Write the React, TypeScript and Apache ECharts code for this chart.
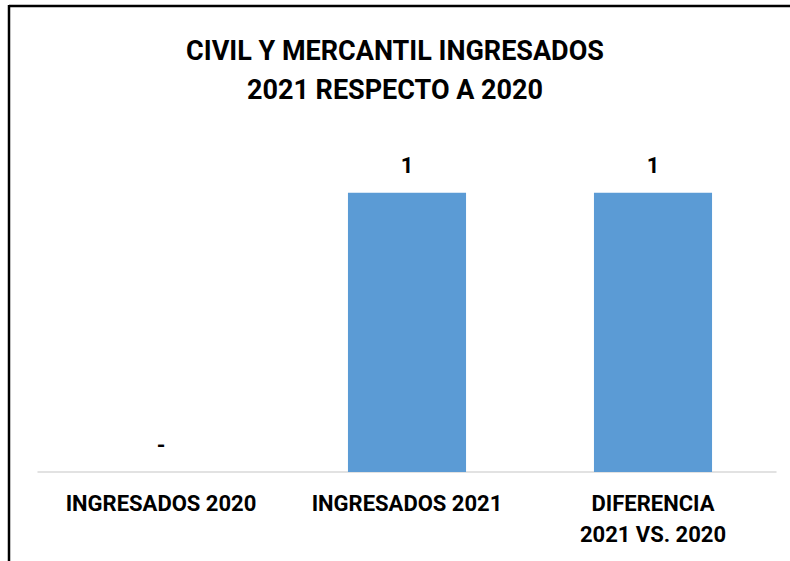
import React, { useEffect, useRef } from "react";
import * as echarts from "echarts";

const categories = ["INGRESADOS 2020", "INGRESADOS 2021", "DIFERENCIA\n2021 VS. 2020"];
const values = [0, 1, 1];
const titleLines = ["CIVIL Y MERCANTIL INGRESADOS", "2021 RESPECTO A 2020"];

const FONT = "Roboto, 'Noto Sans', sans-serif";

export default function App() {
  const ref = useRef<HTMLDivElement>(null);
  useEffect(() => {
    if (!ref.current) return;
    const chart = echarts.init(ref.current, null, { renderer: "svg" });
    chart.setOption({
      animation: false,
      backgroundColor: "#ffffff",
      title: {
        text: titleLines.join("\n"),
        left: "center",
        top: 26,
        textStyle: {
          fontFamily: FONT,
          fontSize: 27,
          fontWeight: "bold",
          color: "#000000",
          lineHeight: 39,
        },
      },
      grid: { left: 38, right: 14, top: 137, bottom: 89 },
      xAxis: {
        type: "category",
        data: categories,
        axisLine: { lineStyle: { color: "#d9d9d9", width: 1.5 } },
        axisTick: { show: false },
        axisLabel: {
          fontFamily: FONT,
          fontSize: 22,
          fontWeight: "bold",
          color: "#000000",
          lineHeight: 31,
          margin: 16,
          interval: 0,
        },
      },
      yAxis: {
        type: "value",
        min: 0,
        max: 1.2,
        show: false,
        splitLine: { show: false },
      },
      series: [
        {
          type: "bar",
          data: values,
          barCategoryGap: "52%",
          itemStyle: { color: "#5b9bd5" },
          label: {
            show: true,
            position: "top",
            distance: 16,
            fontFamily: FONT,
            fontSize: 22,
            fontWeight: "bold",
            color: "#000000",
            formatter: (p: any) => (p.value === 0 ? "-" : String(p.value)),
          },
        },
      ],
      graphic: [
        {
          type: "line",
          shape: { x1: 9, y1: 6, x2: 790, y2: 6 },
          style: { stroke: "#000000", lineWidth: 2.5 },
        },
        {
          type: "line",
          shape: { x1: 9, y1: 5, x2: 9, y2: 561 },
          style: { stroke: "#000000", lineWidth: 2.5 },
        },
      ],
    });
    return () => chart.dispose();
  }, []);
  return (
    <div
      ref={ref}
      style={{ position: "fixed", left: 0, top: 0, width: 790, height: 561 }}
    />
  );
}
